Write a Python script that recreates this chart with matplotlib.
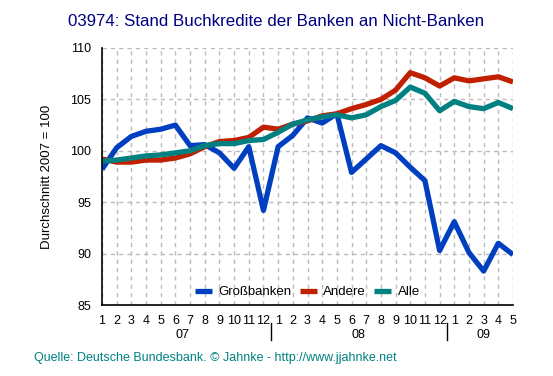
import numpy as np
import matplotlib.pyplot as plt

plt.rcParams['font.family'] = ['Liberation Sans', 'DejaVu Sans']

months = [str(m) for m in range(1, 13)] * 2 + [str(m) for m in range(1, 6)]
years = ["07", "08", "09"]
year_len = [12, 12, 5]

gross = [98.2, 100.3, 101.4, 101.9, 102.1, 102.5, 100.5, 100.6, 99.8, 98.3,
         100.4, 94.2, 100.4, 101.5, 103.2, 102.7, 103.6, 97.9, 99.2, 100.5,
         99.8, 98.4, 97.1, 90.3, 93.1, 90.1, 88.3, 91.0, 89.9]
andere = [99.2, 98.9, 98.9, 99.1, 99.1, 99.3, 99.7, 100.4, 100.9, 101.0,
          101.3, 102.3, 102.1, 102.6, 102.9, 103.4, 103.6, 104.1, 104.5, 105.0,
          105.9, 107.6, 107.1, 106.3, 107.1, 106.8, 107.0, 107.2, 106.7]
alle = [99.0, 99.1, 99.3, 99.5, 99.6, 99.8, 100.0, 100.5, 100.7, 100.7,
        101.0, 101.1, 101.8, 102.6, 103.0, 103.3, 103.5, 103.2, 103.5, 104.3,
        104.9, 106.2, 105.6, 103.9, 104.8, 104.3, 104.1, 104.7, 104.1]

x = np.arange(len(months))

fig = plt.figure(figsize=(5.53, 3.76), dpi=100)
ax = fig.add_axes([102 / 553, 1 - 305 / 376, 411 / 553, 257 / 376])

ax.plot(x, gross, color="#0040C0", lw=3.8, label="Großbanken", solid_capstyle="butt")
ax.plot(x, andere, color="#C02000", lw=3.8, label="Andere", solid_capstyle="butt")
ax.plot(x, alle, color="#008080", lw=3.8, label="Alle", solid_capstyle="butt")

ax.set_xlim(0, len(months) - 1)
ax.set_ylim(85, 110)
ax.set_yticks([85, 90, 95, 100, 105, 110])
ax.set_xticks(x)
ax.set_xticklabels(months)
ax.tick_params(length=0, labelsize=9)
ax.tick_params(axis="x", pad=7)
ax.tick_params(axis="y", pad=8)
ax.grid(True, color="#BBBBBB", linestyle=(0, (3, 3)), linewidth=1)
for s in ["top", "right"]:
    ax.spines[s].set_visible(False)
for s in ["left", "bottom"]:
    ax.spines[s].set_linewidth(1.2)
ax.set_ylabel("Durchschnitt 2007 = 100", fontsize=9.5, labelpad=12)

# year labels and separators
start = 0
for i, (yr, n) in enumerate(zip(years, year_len)):
    center = start + (n - 1) / 2
    ax.text(center, -0.115, yr, transform=ax.get_xaxis_transform(),
            ha="center", va="center", fontsize=9)
    if i > 0:
        ax.plot([start - 0.5, start - 0.5], [-0.07, -0.137],
                transform=ax.get_xaxis_transform(), color="black", lw=1, clip_on=False)
    start += n

leg = ax.legend(loc="lower center", ncol=3, frameon=False, fontsize=9.5,
                handlelength=1.3, handletextpad=0.5, columnspacing=0.6,
                bbox_to_anchor=(0.5, -0.02))

fig.text(0.5, 1 - 21 / 376, "03974: Stand Buchkredite der Banken an Nicht-Banken",
         ha="center", va="center", fontsize=12.2, color="#000080")
fig.text(34 / 553, 1 - 358 / 376, "Quelle: Deutsche Bundesbank. © Jahnke - http://www.jjahnke.net",
         ha="left", va="center", fontsize=9, color="#008080")

fig.savefig("out.png", dpi=100)
